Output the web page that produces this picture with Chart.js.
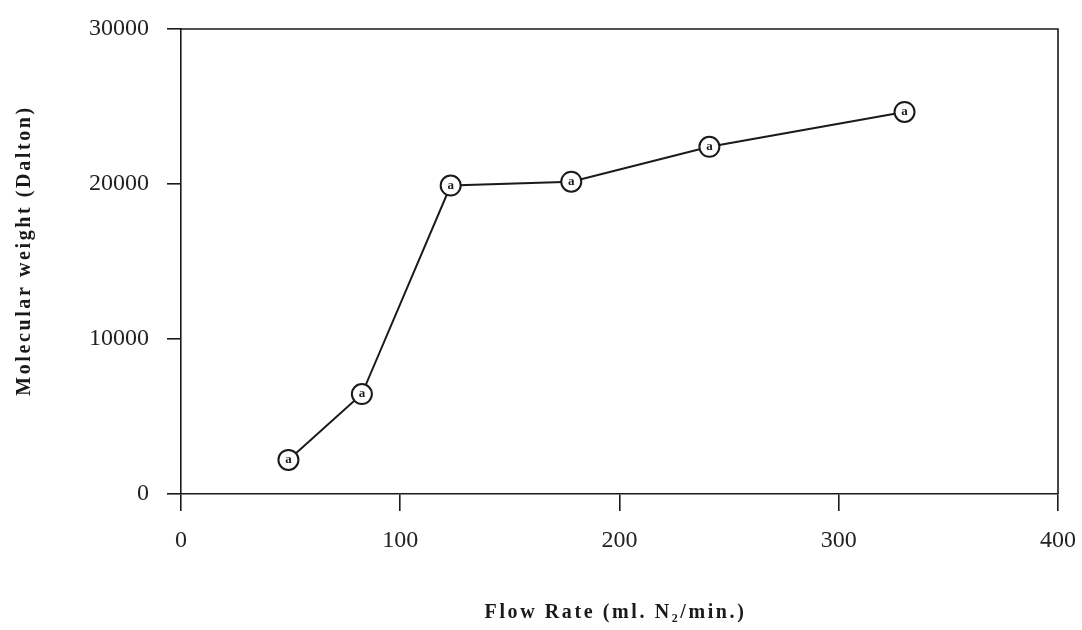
<!DOCTYPE html>
<html>
<head>
<meta charset="utf-8">
<script src="https://cdn.jsdelivr.net/npm/chart.js@4/dist/chart.umd.min.js"></script>
<style>
  html, body { margin: 0; padding: 0; background: #fff; }
  #wrap { width: 1082px; height: 630px; position: relative; }
</style>
</head>
<body>
<div id="wrap"><canvas id="c"></canvas></div>
<script>
// flow rate (ml N2/min) vs molecular weight (Dalton)
const flowRate = [49, 82.5, 123, 178, 241, 330];
const molWeight = [2200, 6450, 19900, 20150, 22400, 24650];
const xTicks = [0, 100, 200, 300, 400];
const yTicks = [0, 10000, 20000, 30000];
const xTitle = 'Flow Rate (ml. N\u2082/min.)';
const yTitle = 'Molecular weight (Dalton)';

const INK = '#1a1a1a';
const SERIF = '"Liberation Serif", "Times New Roman", serif';

// closes the frame on top and right
const frame = {
  id: 'frame',
  afterDraw(chart) {
    const { ctx, chartArea: a } = chart;
    ctx.save();
    ctx.strokeStyle = INK;
    ctx.lineWidth = 1.6;
    ctx.beginPath();
    ctx.moveTo(a.left, a.top);
    ctx.lineTo(a.right, a.top);
    ctx.lineTo(a.right, a.bottom);
    ctx.stroke();
    ctx.restore();
  },
};

// axis titles, drawn by hand so they can be letter-spaced like the original
const titles = {
  id: 'titles',
  afterDraw(chart) {
    const { ctx, chartArea: a } = chart;
    ctx.save();
    ctx.fillStyle = INK;
    ctx.font = 'bold 20px ' + SERIF;
    ctx.letterSpacing = '2.6px';
    ctx.textAlign = 'center';
    ctx.textBaseline = 'middle';
    ctx.fillText(xTitle, (a.left + a.right) / 2 - 4, 613);
    ctx.translate(25, (a.top + a.bottom) / 2 - 11);
    ctx.rotate(-Math.PI / 2);
    ctx.fillText(yTitle, 0, 0);
    ctx.restore();
  },
};

// small mark inside each circle marker
const innerMark = {
  id: 'innerMark',
  afterDatasetsDraw(chart) {
    const { ctx } = chart;
    ctx.save();
    ctx.fillStyle = INK;
    ctx.font = 'bold 13px ' + SERIF;
    ctx.textAlign = 'center';
    ctx.textBaseline = 'middle';
    chart.getDatasetMeta(0).data.forEach(p => ctx.fillText('a', p.x, p.y));
    ctx.restore();
  },
};

new Chart(document.getElementById('c'), {
  type: 'scatter',
  data: {
    datasets: [{
      data: flowRate.map((x, i) => ({ x, y: molWeight[i] })),
      showLine: true,
      borderColor: INK,
      borderWidth: 2,
      pointRadius: 10,
      pointBorderWidth: 2,
      pointBackgroundColor: '#fff',
      pointBorderColor: INK,
      tension: 0,
    }],
  },
  options: {
    responsive: true,
    maintainAspectRatio: false,
    animation: false,
    layout: { padding: { top: 29, right: 24, bottom: 0, left: 0 } },
    plugins: { legend: { display: false }, tooltip: { enabled: false } },
    scales: {
      x: {
        type: 'linear',
        min: 0, max: 400,
        afterBuildTicks: s => { s.ticks = xTicks.map(v => ({ value: v })); },
        afterFit: s => { s.height = 136; s.paddingLeft = 0; s.paddingRight = 0; },
        grid: { drawOnChartArea: false, tickLength: 17, color: INK, lineWidth: 1.6 },
        border: { color: INK, width: 1.6 },
        ticks: { color: '#222', font: { family: SERIF, size: 24 }, padding: 15, maxRotation: 0 },
      },
      y: {
        min: 0, max: 30000,
        afterBuildTicks: s => { s.ticks = yTicks.map(v => ({ value: v })); },
        afterFit: s => { s.width = 181; s.paddingTop = 0; s.paddingBottom = 0; },
        grid: { drawOnChartArea: false, tickLength: 14, color: INK, lineWidth: 1.6 },
        border: { color: INK, width: 1.6 },
        ticks: {
          color: '#222',
          font: { family: SERIF, size: 24 },
          padding: 18,
          callback: v => String(v),
        },
      },
    },
  },
  plugins: [frame, innerMark, titles],
});
</script>
</body>
</html>
